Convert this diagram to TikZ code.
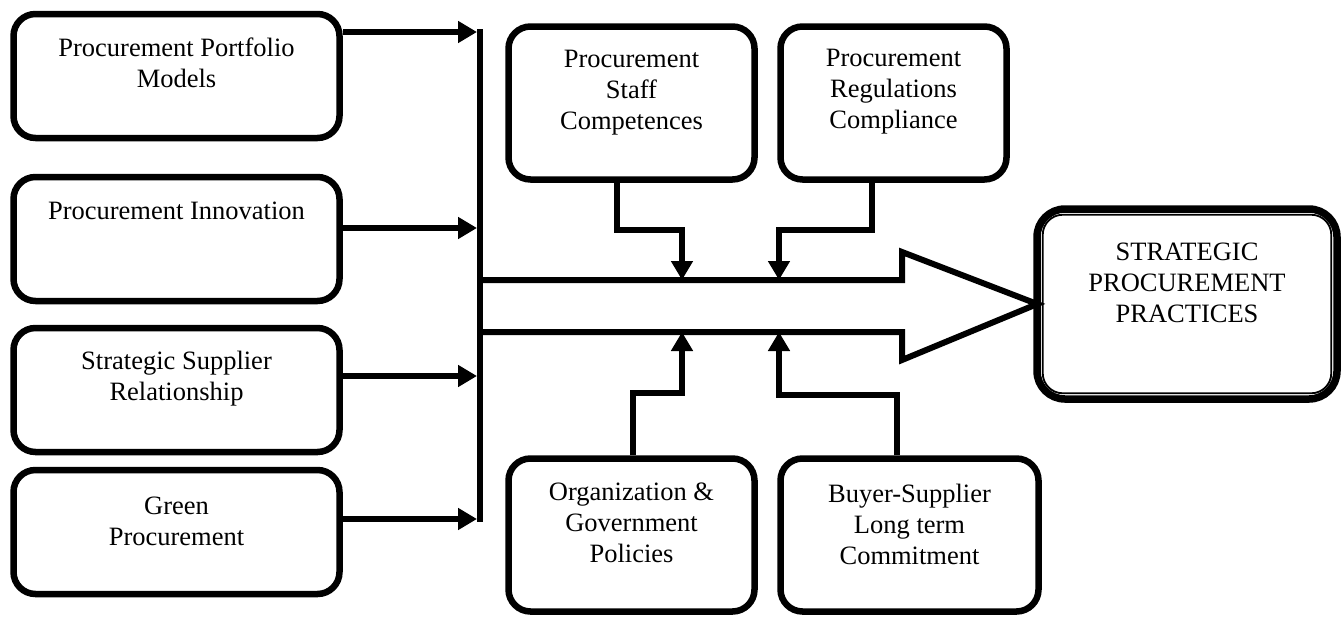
\documentclass[tikz,border=0pt]{standalone}
\usepackage{fontspec}
\setmainfont{Liberation Serif}
\usetikzlibrary{arrows.meta, positioning}
\tikzset{
    box/.style={draw, line width=6.5pt, rounded corners=22pt, minimum width=326pt, minimum height=124pt},
    txt/.style={align=center, font=\fontsize{26.5}{31}\selectfont},
    flow/.style={line width=6pt, -{Triangle[length=19pt, width=21pt]}},
}

\begin{document}
\begin{tikzpicture}[x=1pt, y=-1pt]
        \useasboundingbox (0,0) rectangle (1343,619);

        % Draw left boxes
        \node[box] (ppm) at (176.5,76) {};
        \node[box] (inn) at (176.5,239) {};
        \node[box] (ssr) at (176.5,390) {};
        \node[box] (grn) at (176.5,532) {};
        \node[txt, yshift=13pt] at (ppm) {Procurement Portfolio\\Models};
        \node[txt, yshift=28pt] at (inn) {Procurement Innovation};
        \node[txt, yshift=11pt] at (ssr) {Strategic Supplier\\Relationship};
        \node[txt, yshift=11pt] at (grn) {Green\\Procurement};

        % Draw top and bottom boxes
        \node[box, minimum width=246pt, minimum height=153pt] (stf) at (631.5,103) {};
        \node[box, minimum width=226pt, minimum height=153pt] (reg) at (893.5,103) {};
        \node[box, minimum width=246pt, minimum height=153pt] (org) at (631.5,535) {};
        \node[box, minimum width=258pt, minimum height=153pt] (bsc) at (909.5,535) {};
        \node[txt, yshift=10pt] at (stf) {Procurement\\Staff\\Competences};
        \node[txt, yshift=11pt] at (reg) {Procurement\\Regulations\\Compliance};
        \node[txt, yshift=12pt] at (org) {Organization \&\\Government\\Policies};
        \node[txt, yshift=11pt] at (bsc) {Buyer-Supplier\\Long term\\Commitment};

        % Draw result box with double border
        \node[box, line width=7.5pt, rounded corners=28pt, minimum width=300pt, minimum height=190pt] (spp) at (1187,304) {};
        \draw[line width=1.8pt, rounded corners=20pt] ([shift={(9.5pt,-9.5pt)}]spp.north west) rectangle ([shift={(-9.5pt,9.5pt)}]spp.south east);
        \node[txt, yshift=21pt] at (spp) {STRATEGIC\\PROCUREMENT\\PRACTICES};

        % Bus and arrows from left boxes
        \coordinate (b1) at (480,32);
        \coordinate (b2) at (480,228);
        \coordinate (b3) at (480,376);
        \coordinate (b4) at (480,519);
        \draw[line width=6pt] ([yshift=3pt]b1) -- ([yshift=-3pt]b4);
        \foreach \b/\n in {b1/ppm, b2/inn, b3/ssr, b4/grn}
            \draw[flow] (\n.east |- \b) -- ([xshift=-3pt]\b);

        % Big arrow
        \draw[line width=6pt, line join=miter] (480,280) -- (902,280) -- (902,252) -- ([xshift=4pt]spp.west) -- (902,360) -- (902,332) -- (480,332);

        % Arrows into the big arrow
        \coordinate (j1) at (682,280);
        \coordinate (j2) at (779,280);
        \coordinate (j3) at (682,332);
        \coordinate (j4) at (779,332);
        \draw[flow] ([xshift=-14.5pt]stf.south) -- ++(0,47) -| (j1);
        \draw[flow] ([xshift=-21.5pt]reg.south) -- ++(0,47) -| (j2);
        \draw[flow] ([xshift=1.5pt]org.north) -- ++(0,-62) -| (j3);
        \draw[flow] ([xshift=-12.5pt]bsc.north) -- ++(0,-60) -| (j4);

\end{tikzpicture}
\end{document}
